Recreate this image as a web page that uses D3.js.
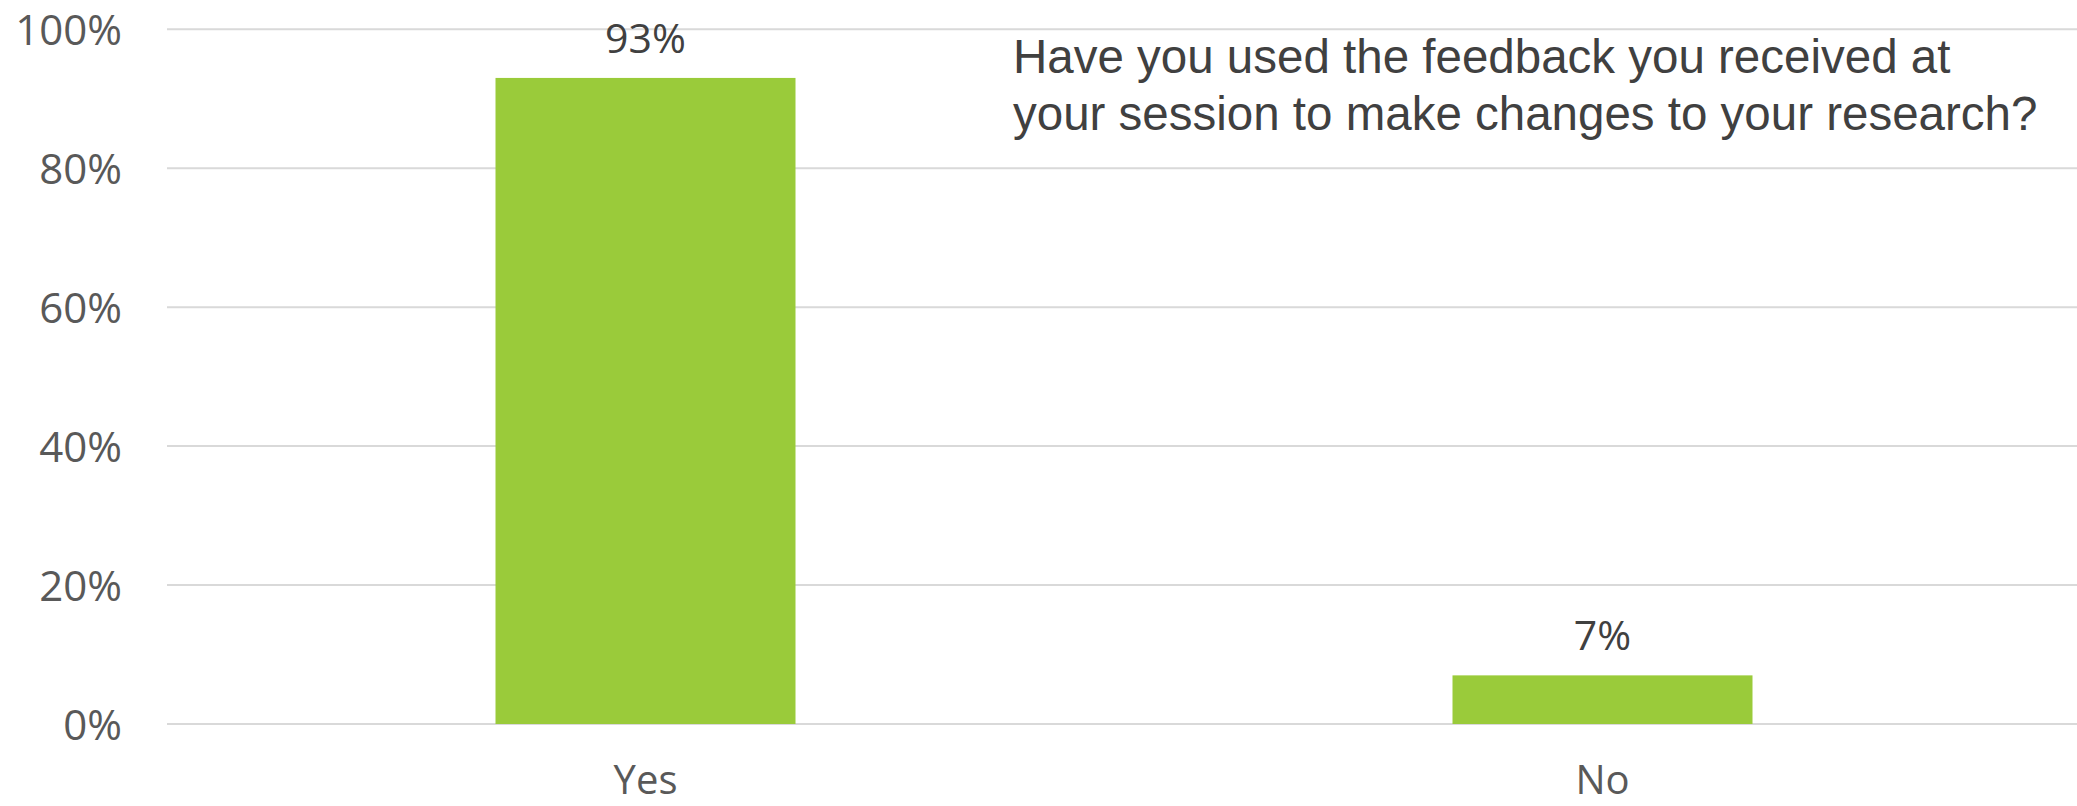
<!DOCTYPE html>
<html>
<head>
<meta charset="utf-8">
<script src="https://cdn.jsdelivr.net/npm/d3@7"></script>
<style>
    body { margin: 0; background: #ffffff; }
    svg { display: block; }
</style>
</head>
<body>
<div id="chart"></div>
<script>
// Chart data
const categories = ["Yes", "No"];
const shares = [0.93, 0.07];
const yTicks = [0, 0.2, 0.4, 0.6, 0.8, 1.0];
const titleLines = [
    "Have you used the feedback you received at",
    "your session to make changes to your research?"
];

function drawChart() {
    const width = 2077;
    const height = 806;

    const svg = d3.select("#chart")
        .append("svg")
        .attr("width", width)
        .attr("height", height);

    // Plot area in page pixels
    const x = d3.scaleBand()
        .domain(categories)
        .range([167, 2081])
        .padding(0);

    const y = d3.scaleLinear()
        .domain([0, 1])
        .range([724, 29.3]);

    // Excel-style gap width of ~219% between bars
    const barWidth = x.bandwidth() / 3.19;

    // Horizontal gridlines
    svg.append("g")
        .selectAll("line")
        .data(yTicks)
        .enter()
        .append("line")
        .attr("x1", x.range()[0])
        .attr("x2", x.range()[1])
        .attr("y1", d => y(d))
        .attr("y2", d => y(d))
        .attr("stroke", "#d9d9d9")
        .attr("stroke-width", 2);

    // Y tick labels
    const yAxis = d3.axisLeft(y)
        .tickValues(yTicks)
        .tickFormat(d3.format(".0%"))
        .tickSize(0)
        .tickPadding(0);

    const yg = svg.append("g")
        .attr("transform", "translate(122,0)")
        .call(yAxis);
    yg.select(".domain").remove();
    yg.selectAll("text")
        .attr("dy", "0.36em")
        .style("font-family", "'Open Sans', sans-serif")
        .style("font-size", "42px")
        .style("fill", "#595959");

    // Bars
    const data = categories.map((c, i) => ({category: c, value: shares[i]}));

    svg.append("g")
        .selectAll("rect")
        .data(data)
        .enter()
        .append("rect")
        .attr("x", d => x(d.category) + (x.bandwidth() - barWidth) / 2)
        .attr("y", d => y(d.value))
        .attr("width", barWidth)
        .attr("height", d => y(0) - y(d.value))
        .attr("fill", "#9acb3a");

    // Value labels above bars
    svg.append("g")
        .selectAll("text")
        .data(data)
        .enter()
        .append("text")
        .attr("x", d => x(d.category) + x.bandwidth() / 2)
        .attr("y", d => y(d.value) - 25)
        .attr("text-anchor", "middle")
        .style("font-family", "'Open Sans', sans-serif")
        .style("font-size", "41px")
        .style("fill", "#404040")
        .text(d => d3.format(".0%")(d.value));

    // Category labels (kept just inside the bottom edge)
    const xAxis = d3.axisBottom(x).tickSize(0).tickPadding(0);
    const xg = svg.append("g")
        .attr("transform", "translate(0,794)")
        .call(xAxis);
    xg.select(".domain").remove();
    xg.selectAll("text")
        .attr("y", 0)
        .attr("dy", 0)
        .style("font-family", "'Open Sans', sans-serif")
        .style("font-size", "40px")
        .style("fill", "#595959");

    // Question text in the top right
    svg.append("text")
        .attr("x", 1013)
        .attr("y", 73)
        .style("font-family", "'Liberation Sans', Arial, sans-serif")
        .style("font-size", "47.5px")
        .style("fill", "#404040")
        .selectAll("tspan")
        .data(titleLines)
        .enter()
        .append("tspan")
        .attr("x", 1013)
        .attr("dy", (d, i) => i === 0 ? 0 : 57)
        .text(d => d);
}

drawChart();
</script>
</body>
</html>
